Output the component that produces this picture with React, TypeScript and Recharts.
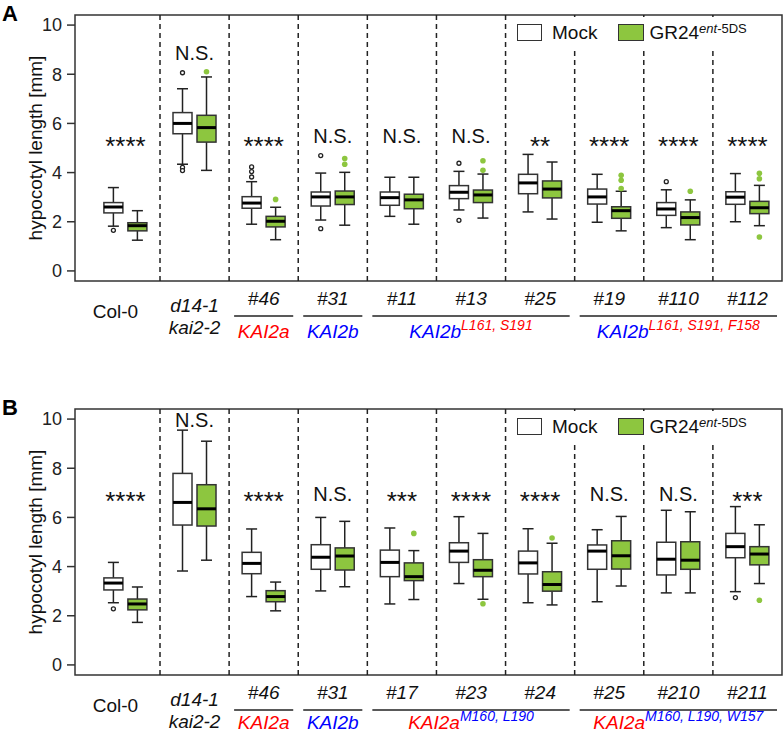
import React from 'react';
import {
  ComposedChart, Bar, Scatter, XAxis, YAxis,
  ReferenceLine, ReferenceArea, Legend,
} from 'recharts';

const GREEN = '#8dc63f';
const RED = '#ff0000';
const BLUE = '#0000ff';
const INK = '#222';
const FONT = '"Liberation Sans", Arial, Helvetica, sans-serif';

// box stats: [lower whisker, q1, median, q3, upper whisker]
const labelsA = ['Col-0', 'd14-1', '#46', '#31', '#11', '#13', '#25', '#19', '#110', '#112'];
const mockA = [
  [1.82, 2.36, 2.6, 2.78, 3.39],
  [4.34, 5.58, 6.0, 6.44, 7.41],
  [1.9, 2.55, 2.76, 3.02, 3.63],
  [2.07, 2.64, 3.01, 3.21, 3.98],
  [2.22, 2.67, 2.98, 3.21, 3.81],
  [2.48, 2.94, 3.2, 3.47, 4.05],
  [2.4, 3.14, 3.58, 3.93, 4.74],
  [1.98, 2.72, 3.01, 3.33, 3.93],
  [1.76, 2.26, 2.52, 2.78, 3.3],
  [2.0, 2.71, 3.0, 3.22, 3.96],
];
const mockOutA = [[1.65], [8.06, 4.21, 4.08], [4.23, 4.04, 3.82], [4.69, 1.72], [], [4.38, 2.06], [], [], [3.63], []];
const grA = [
  [1.25, 1.63, 1.84, 1.96, 2.45],
  [4.09, 5.24, 5.83, 6.33, 7.89],
  [1.27, 1.79, 2.02, 2.22, 2.59],
  [1.86, 2.7, 3.01, 3.25, 4.01],
  [1.9, 2.53, 2.89, 3.12, 3.81],
  [2.15, 2.78, 3.09, 3.29, 3.94],
  [2.11, 2.97, 3.33, 3.66, 4.43],
  [1.63, 2.14, 2.45, 2.61, 3.24],
  [1.27, 1.87, 2.17, 2.4, 2.89],
  [1.84, 2.33, 2.57, 2.83, 3.48],
];
const grOutA = [[], [8.1], [2.91], [4.57, 4.34], [], [4.48, 4.09], [], [3.89, 3.69, 3.35], [3.24], [3.97, 3.75, 1.38]];
const sigA = ['****', 'N.S.', '****', 'N.S.', 'N.S.', 'N.S.', '**', '****', '****', '****'];
const sigLevelA = [4.7, 8.58, 4.7, 5.19, 5.19, 5.19, 4.7, 4.7, 4.7, 4.7];
const groupsA = [
  { from: 2, to: 2, base: 'KAI2a', baseColor: RED, sup: '', supColor: RED },
  { from: 3, to: 3, base: 'KAI2b', baseColor: BLUE, sup: '', supColor: RED },
  { from: 4, to: 6, base: 'KAI2b', baseColor: BLUE, sup: 'L161, S191', supColor: RED },
  { from: 7, to: 9, base: 'KAI2b', baseColor: BLUE, sup: 'L161, S191, F158', supColor: RED },
];

const labelsB = ['Col-0', 'd14-1', '#46', '#31', '#17', '#23', '#24', '#25', '#210', '#211'];
const mockB = [
  [2.53, 3.05, 3.33, 3.54, 4.17],
  [3.82, 5.69, 6.61, 7.79, 9.55],
  [2.78, 3.71, 4.13, 4.58, 5.53],
  [3.01, 3.89, 4.38, 4.89, 6.0],
  [2.48, 3.59, 4.17, 4.67, 5.57],
  [3.31, 4.17, 4.63, 4.97, 6.03],
  [2.53, 3.7, 4.15, 4.63, 5.54],
  [2.57, 3.89, 4.63, 4.88, 5.5],
  [2.93, 3.66, 4.3, 4.99, 6.29],
  [2.98, 4.36, 4.81, 5.35, 6.44],
];
const mockOutB = [[2.28], [], [], [], [], [], [], [], [], [2.74]];
const grB = [
  [1.73, 2.24, 2.48, 2.68, 3.17],
  [4.26, 5.65, 6.35, 7.33, 9.1],
  [2.2, 2.57, 2.78, 3.02, 3.37],
  [3.18, 3.86, 4.43, 4.76, 5.84],
  [2.66, 3.43, 3.59, 4.15, 4.65],
  [2.67, 3.59, 3.85, 4.28, 5.35],
  [2.44, 3.0, 3.27, 3.79, 4.95],
  [3.21, 3.9, 4.44, 5.05, 6.04],
  [2.93, 3.89, 4.26, 5.01, 6.23],
  [3.31, 4.07, 4.51, 4.81, 5.7],
];
const grOutB = [[], [], [], [], [5.35], [2.49], [5.16], [], [], [2.63]];
const sigB = ['****', 'N.S.', '****', 'N.S.', '***', '****', '****', 'N.S.', 'N.S.', '***'];
const sigLevelB = [6.31, 9.69, 6.31, 6.67, 6.31, 6.31, 6.31, 6.67, 6.67, 6.31];
const groupsB = [
  { from: 2, to: 2, base: 'KAI2a', baseColor: RED, sup: '', supColor: BLUE },
  { from: 3, to: 3, base: 'KAI2b', baseColor: BLUE, sup: '', supColor: BLUE },
  { from: 4, to: 6, base: 'KAI2a', baseColor: RED, sup: 'M160, L190', supColor: BLUE },
  { from: 7, to: 9, base: 'KAI2a', baseColor: RED, sup: 'M160, L190, W157', supColor: BLUE },
];

const yTicks = [0, 2, 4, 6, 8, 10];
const xTicks = [0, 1, 2, 3, 4, 5, 6, 7, 8, 9];
const dividers = [0.5, 1.5, 2.5, 3.5, 4.5, 5.5, 6.5, 7.5, 8.5];

const W = 783;
const H = 360;
const Y_AXIS_W = 75;
const X_MIN = -0.73;
const X_MAX = 9.5;
const Y_MIN = -0.41;
const Y_MAX = 10.41;
const UNIT = (W - Y_AXIS_W - 1) / (X_MAX - X_MIN);

function renderBox(p: any, key: 'mock' | 'gr') {
  const s: number[] = p.payload[key];
  const outs: number[] = p.payload[key + 'Out'];
  const top = Math.min(p.y, p.y + p.height);
  const k = Math.abs(p.height) / (s[4] - s[0]);
  const py = (v: number) => top + (s[4] - v) * k;
  const cx = p.x + p.width / 2;
  const fill = key === 'gr' ? GREEN : '#fff';
  return (
    <g>
      <line x1={cx} x2={cx} y1={py(s[4])} y2={py(s[3])} stroke={INK} strokeWidth={1.5} />
      <line x1={cx} x2={cx} y1={py(s[1])} y2={py(s[0])} stroke={INK} strokeWidth={1.5} />
      <line x1={cx - 5.5} x2={cx + 5.5} y1={py(s[4])} y2={py(s[4])} stroke={INK} strokeWidth={1.5} />
      <line x1={cx - 5.5} x2={cx + 5.5} y1={py(s[0])} y2={py(s[0])} stroke={INK} strokeWidth={1.5} />
      <rect x={p.x} y={py(s[3])} width={p.width} height={py(s[1]) - py(s[3])}
        fill={fill} stroke="#333" strokeWidth={1.5} />
      <line x1={p.x} x2={p.x + p.width} y1={py(s[2])} y2={py(s[2])} stroke="#000" strokeWidth={3} />
      {outs.map((v, i) => key === 'gr'
        ? <circle key={i} cx={cx} cy={py(v)} r={2.8} fill={GREEN} />
        : <circle key={i} cx={cx} cy={py(v)} r={2} fill="#fff" stroke={INK} strokeWidth={1.3} />)}
    </g>
  );
}

const makeTick = (labels: string[], groups: typeof groupsA, groupDy: number) => (props: any) => {
  const { x, y, payload } = props;
  const i = payload.value as number;
  const g = groups.find((gr) => (gr.from + gr.to) / 2 === i);
  const half = g ? ((g.to - g.from + 1) * UNIT) / 2 - 5 : 0;
  return (
    <g fontFamily={FONT} fontSize={19} fill="#111">
      {i === 0 && <text x={x - 10} y={y + 37} textAnchor="middle">{labels[i]}</text>}
      {i === 1 && (
        <>
          <text x={x} y={y + 31} textAnchor="middle" fontStyle="italic">{labels[i]}</text>
          <text x={x} y={y + 53} textAnchor="middle" fontStyle="italic">kai2-2</text>
        </>
      )}
      {i > 1 && <text x={x} y={y + 24} textAnchor="middle" fontStyle="italic">{labels[i]}</text>}
      {g && (
        <>
          <line x1={x - half} x2={x + half} y1={y + 35} y2={y + 35} stroke={INK} strokeWidth={1.5} />
          <text x={x} y={y + groupDy} textAnchor="middle" fontStyle="italic">
            <tspan fill={g.baseColor}>{g.base}</tspan>
            {g.sup && <tspan fill={g.supColor} fontSize={14} dy={-8}>{g.sup}</tspan>}
          </text>
        </>
      )}
    </g>
  );
};

const renderLegend = () => (
  <div style={{ display: 'flex', alignItems: 'center', height: 32, fontFamily: FONT, fontSize: 19, color: '#111', paddingLeft: 9 }}>
    <span style={{ display: 'inline-block', width: 25, height: 17, border: '1.5px solid #333', background: '#fff', boxSizing: 'border-box' }} />
    <span style={{ marginLeft: 10 }}>Mock</span>
    <span style={{ display: 'inline-block', marginLeft: 21, width: 26, height: 17, border: '1.5px solid #333', background: GREEN, boxSizing: 'border-box' }} />
    <span style={{ marginLeft: 5, position: 'relative' }}>
      GR24
      <span style={{ fontSize: 13, position: 'relative', top: -6 }}>
        <i>ent</i>-5DS
      </span>
    </span>
  </div>
);

const renderSig = (p: any) => {
  const stars = p.payload.sig.includes('*');
  return (
    <text x={p.cx} y={p.cy} textAnchor="middle" fontFamily={FONT}
      fontSize={stars ? 26 : 20} fill="#111">
      {p.payload.sig}
    </text>
  );
};

function Panel(props: any) {
  const { tag, top, labels, mock, mockOut, gr, grOut, sig, sigLevel, groups, groupDy } = props;
  const data = labels.map((name: string, i: number) => ({
    x: i, name, mock: mock[i], mockOut: mockOut[i], gr: gr[i], grOut: grOut[i],
    sig: sig[i], sigLevel: sigLevel[i],
  }));
  return (
    <div style={{ position: 'absolute', left: 0, top, width: W, height: H }}>
      <ComposedChart width={W} height={H} data={data} barGap={5}
        margin={{ top: 15, right: 1, bottom: 19, left: 0 }}>
        <XAxis type="number" dataKey="x" domain={[X_MIN, X_MAX]} ticks={xTicks} interval={0}
          allowDataOverflow height={60} tickSize={0} tickMargin={0}
          axisLine={false} tickLine={false} tick={makeTick(labels, groups, groupDy)} />
        <YAxis type="number" domain={[Y_MIN, Y_MAX]} ticks={yTicks} allowDataOverflow
          width={Y_AXIS_W} tickSize={8} tickMargin={5} axisLine={false}
          tickLine={{ stroke: '#333', strokeWidth: 1.5 }}
          tick={{ fontSize: 18, fill: '#222', fontFamily: FONT }}
          label={{
            content: ({ viewBox }: any) => (
              <text transform={`translate(${viewBox.x + 35}, ${viewBox.y + viewBox.height / 2}) rotate(-90)`}
                textAnchor="middle" dominantBaseline="central" fontFamily={FONT} fontSize={19} fill="#111">
                hypocotyl length [mm]
              </text>
            ),
          }} />
        {dividers.map((d) => (
          <ReferenceLine key={d} x={d} stroke={INK} strokeWidth={1.5} strokeDasharray="5 4" />
        ))}
        <Bar dataKey={(d: any) => [d.mock[0], d.mock[4]]} name="Mock" barSize={19}
          isAnimationActive={false} shape={(p: any) => renderBox(p, 'mock')} />
        <Bar dataKey={(d: any) => [d.gr[0], d.gr[4]]} name="GR24" barSize={19}
          isAnimationActive={false} shape={(p: any) => renderBox(p, 'gr')} />
        <Scatter dataKey="sigLevel" legendType="none" isAnimationActive={false} shape={renderSig} />
        <ReferenceArea x1={X_MIN} x2={X_MAX} y1={Y_MIN} y2={Y_MAX} ifOverflow="visible"
          fill="none" stroke="#333" strokeWidth={1.5} />
        <Legend layout="horizontal" verticalAlign="middle" align="center" content={renderLegend}
          wrapperStyle={{ left: 508, top: 16.5, width: 272, height: 32, background: '#fff' }} />
      </ComposedChart>
      <div style={{ position: 'absolute', left: 2, top: 0.5, zIndex: 2, fontFamily: FONT, fontWeight: 700, fontSize: 22, lineHeight: 'normal', color: '#000' }}>{tag}</div>
    </div>
  );
}

export default function App() {
  return (
    <div style={{ position: 'absolute', left: 0, top: 0, width: W, height: 734, overflow: 'hidden', background: '#fff' }}>
      <Panel tag="A" top={0} labels={labelsA} mock={mockA} mockOut={mockOutA} gr={grA} grOut={grOutA}
        sig={sigA} sigLevel={sigLevelA} groups={groupsA} groupDy={57} />
      <Panel tag="B" top={394} labels={labelsB} mock={mockB} mockOut={mockOutB} gr={grB} grOut={grOutB}
        sig={sigB} sigLevel={sigLevelB} groups={groupsB} groupDy={54} />
    </div>
  );
}
